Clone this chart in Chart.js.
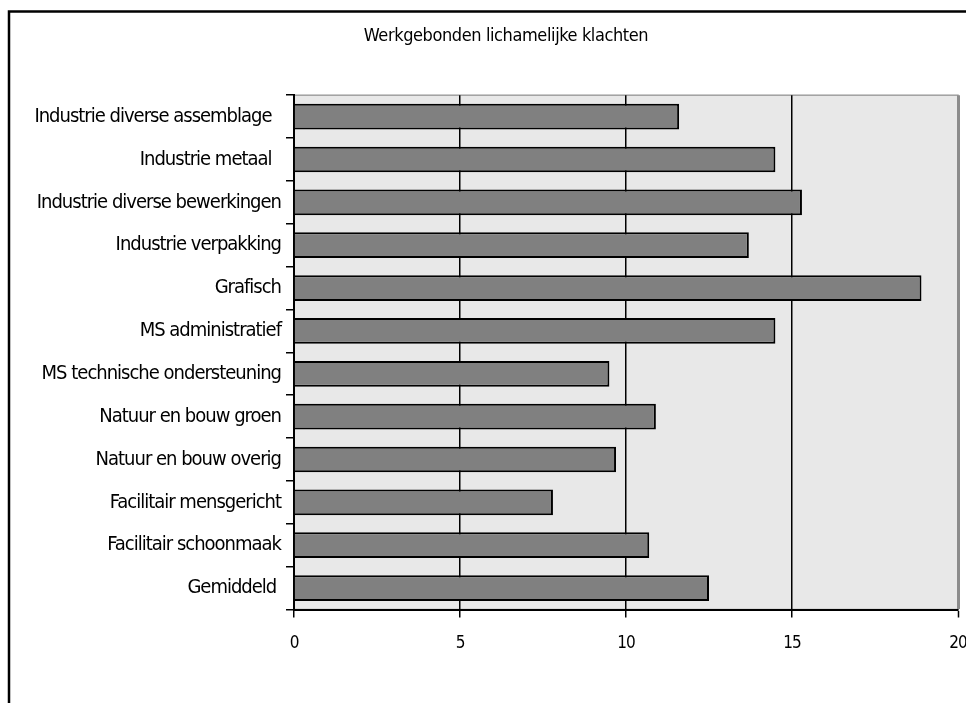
<!DOCTYPE html>
<html>
<head>
<meta charset="utf-8">
<script src="https://cdn.jsdelivr.net/npm/chart.js@4/dist/chart.umd.min.js"></script>
<style>
  html, body { margin: 0; padding: 0; background: #fff; overflow: hidden; }
  #wrap { width: 966px; height: 703px; }
</style>
</head>
<body>
<div id="wrap"><canvas id="c" width="966" height="703"></canvas></div>
<script>
// Sectors (top to bottom) and share of workers with work-related physical complaints
const categories = [
  'Industrie diverse assemblage  ',
  'Industrie metaal  ',
  'Industrie diverse bewerkingen',
  'Industrie verpakking',
  'Grafisch',
  'MS administratief',
  'MS technische ondersteuning',
  'Natuur en bouw groen',
  'Natuur en bouw overig',
  'Facilitair mensgericht',
  'Facilitair schoonmaak',
  'Gemiddeld '
];
const complaints = [11.6, 14.5, 15.3, 13.7, 18.9, 14.5, 9.5, 10.9, 9.7, 7.8, 10.7, 12.5];
const xTicks = [0, 5, 10, 15, 20];
const chartTitle = 'Werkgebonden lichamelijke klachten';

const FONT = "'Liberation Sans Narrow', 'Arial Narrow', 'DejaVu Sans Condensed', sans-serif";
const TITLE_CENTER_X = 506;

// Outer frame, plot background and tighter lettering
const framePlugin = {
  id: 'frame',
  afterLayout(chart) {
    const t = chart.titleBlock;
    if (t && !t._narrowed) {
      const orig = t.draw.bind(t);
      t.draw = function (...args) {
        const ctx = chart.ctx;
        ctx.save();
        ctx.letterSpacing = '-0.4px';
        ctx.translate(TITLE_CENTER_X - (t.left + t.right) / 2, 0);
        orig(...args);
        ctx.restore();
      };
      t._narrowed = true;
    }
  },
  beforeDraw(chart) {
    const ctx = chart.ctx;
    const a = chart.chartArea;
    ctx.save();
    ctx.fillStyle = '#ffffff';
    ctx.fillRect(0, 0, chart.width, chart.height);
    ctx.strokeStyle = '#000';
    ctx.lineWidth = 2.5;
    ctx.strokeRect(9, 11.5, chart.width + 40, chart.height + 40);
    ctx.fillStyle = '#e8e8e8';
    ctx.fillRect(a.left, a.top, a.right - a.left, a.bottom - a.top);
    ctx.strokeStyle = '#a0a0a0';
    ctx.lineWidth = 1.5;
    ctx.strokeRect(a.left, a.top, a.right - a.left, a.bottom - a.top);
    ctx.restore();
    ctx.letterSpacing = '-1px';
  },
  afterDraw(chart) {
    chart.ctx.letterSpacing = '0px';
  }
};

new Chart(document.getElementById('c'), {
  type: 'bar',
  data: {
    labels: categories,
    datasets: [{
      data: complaints,
      backgroundColor: '#808080',
      borderColor: '#000',
      borderWidth: 2,
      barPercentage: 0.6,
      categoryPercentage: 1
    }]
  },
  options: {
    indexAxis: 'y',
    responsive: false,
    devicePixelRatio: 1,
    animation: false,
    layout: { padding: { left: 12, right: 8, top: 0, bottom: 0 } },
    plugins: {
      legend: { display: false },
      tooltip: { enabled: false },
      title: {
        display: true,
        text: chartTitle,
        color: '#000',
        font: { family: FONT, size: 18, weight: 'normal' },
        padding: { top: 26, bottom: 47.6 }
      }
    },
    scales: {
      x: {
        min: 0,
        max: 20,
        afterBuildTicks(scale) { scale.ticks = xTicks.map(v => ({ value: v })); },
        afterFit(scale) {
          scale.height = 93.5;
          scale.paddingLeft = 0;
          scale.paddingRight = 0;
        },
        grid: {
          color: ctx => ctx.tick && ctx.tick.value === 20 ? '#8c8c8c' : '#000',
          lineWidth: ctx => ctx.tick && ctx.tick.value === 20 ? 3 : 1.5,
          tickColor: '#000',
          tickWidth: 1.5,
          tickLength: 8,
          drawTicks: true
        },
        border: { color: '#000', width: 2 },
        ticks: {
          color: '#000',
          padding: 16,
          font: { family: FONT, size: 17 },
          maxRotation: 0
        }
      },
      y: {
        afterFit(scale) {
          scale.width = 282;
          scale.paddingTop = 0;
          scale.paddingBottom = 0;
        },
        grid: {
          offset: true,
          drawOnChartArea: false,
          drawTicks: true,
          tickLength: 8,
          color: '#000',
          lineWidth: 1.5
        },
        border: { color: '#000', width: 2 },
        ticks: {
          color: '#000',
          padding: 5,
          font: { family: FONT, size: 20 },
          autoSkip: false
        }
      }
    }
  },
  plugins: [framePlugin]
});
</script>
</body>
</html>
